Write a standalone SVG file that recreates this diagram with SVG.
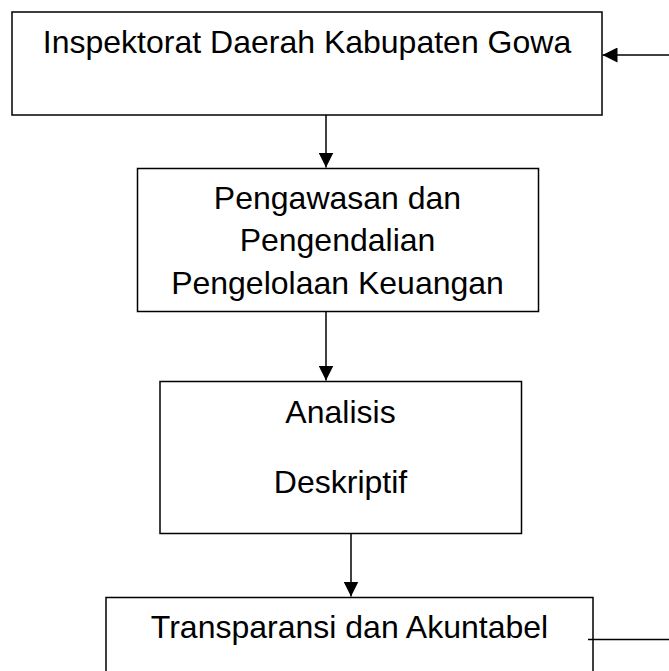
<svg xmlns="http://www.w3.org/2000/svg" width="669" height="671" viewBox="0 0 669 671">
<style>
.box{fill:#fff;stroke:#000;stroke-width:1.5}
.t{font-family:"Liberation Sans",Arial,sans-serif;font-size:32px;fill:#000;text-anchor:middle}
.c{stroke:#000;stroke-width:1.5;fill:none}
</style>
<defs>
<marker id="ah" viewBox="0 0 15 15" refX="15" refY="7.5" markerWidth="15" markerHeight="15" markerUnits="userSpaceOnUse" orient="auto">
<path d="M0,0 L15,7.5 L0,15 Z" fill="#000"/>
</marker>
</defs>
<rect width="669" height="671" fill="#fff"/>
<g id="n1">
<rect class="box" x="12" y="12" width="590" height="103"/>
<text class="t" x="307" y="52.5">Inspektorat Daerah Kabupaten Gowa</text>
</g>
<g id="n2">
<rect class="box" x="137.5" y="168.5" width="401" height="143"/>
<text class="t" x="337.5" y="208.5">Pengawasan dan</text>
<text class="t" x="337.5" y="251">Pengendalian</text>
<text class="t" x="337.5" y="293.5">Pengelolaan Keuangan</text>
</g>
<g id="n3">
<rect class="box" x="160" y="381.5" width="361.5" height="152"/>
<text class="t" x="340.5" y="422.5">Analisis</text>
<text class="t" x="340.5" y="492.5">Deskriptif</text>
</g>
<g id="n4">
<rect class="box" x="106" y="597.5" width="487" height="100"/>
<text class="t" x="349.5" y="637.5">Transparansi dan Akuntabel</text>
</g>
<g id="connectors">
<line class="c" x1="326" y1="115" x2="326" y2="167.5" marker-end="url(#ah)"/>
<line class="c" x1="326" y1="311.5" x2="326" y2="380.5" marker-end="url(#ah)"/>
<line class="c" x1="351" y1="533.5" x2="351" y2="596.5" marker-end="url(#ah)"/>
<line class="c" x1="669" y1="55" x2="602.5" y2="55" marker-end="url(#ah)"/>
<line class="c" x1="588" y1="639.5" x2="669" y2="639.5"/>
</g>
</svg>
